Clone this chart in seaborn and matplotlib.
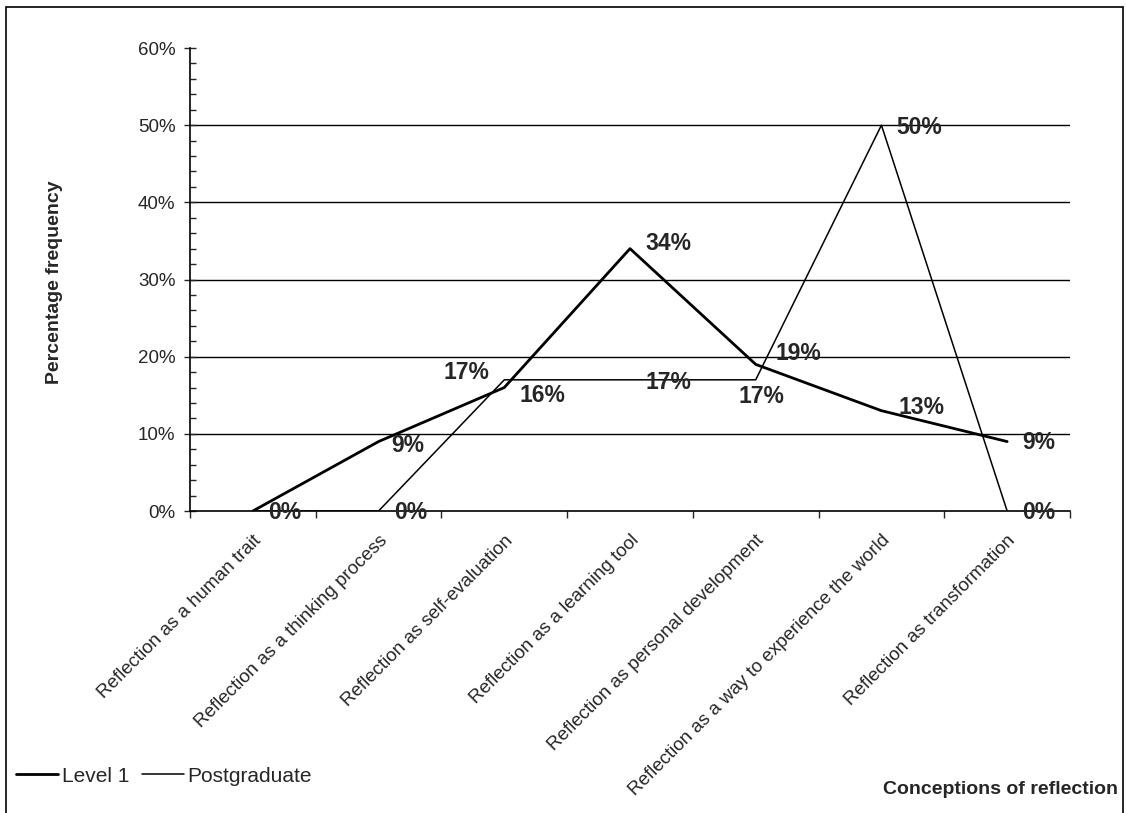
import numpy as np
import pandas as pd
import matplotlib
matplotlib.use("Agg")
import matplotlib.pyplot as plt
import matplotlib.transforms as mtrans
import seaborn as sns
from matplotlib.ticker import MultipleLocator, PercentFormatter

# data
categories = ["Reflection as a human trait",
              "Reflection as a thinking process",
              "Reflection as self-evaluation",
              "Reflection as a learning tool",
              "Reflection as personal development",
              "Reflection as a way to experience the world",
              "Reflection as transformation"]
level1 = [0, 9, 16, 34, 19, 13, 9]
postgrad = [0, 0, 17, 17, 17, 50, 0]

# label offsets in points (dx, dy, ha) - layout only
off_l1 = [(11, -1, "left"), (9, -3, "left"), (11, -6, "left"), (11, 4, "left"),
          (14, 8, "left"), (12, 2, "left"), (11, -1, "left")]
off_pg = [None, (11, -1, "left"), (-11, 5, "right"), (11, -2, "left"),
          (4, -12, "center"), (11, -2, "left"), (11, -1, "left")]

sns.set_style("white")
plt.rcParams["font.family"] = ["Liberation Sans", "DejaVu Sans"]

df = pd.DataFrame({"cat": list(range(len(categories))) * 2,
                   "val": level1 + postgrad,
                   "series": ["Level 1"] * 7 + ["Postgraduate"] * 7})

fig = plt.figure(figsize=(11.26, 8.13), dpi=100)
ax = fig.add_axes([190 / 1126, 1 - 511 / 813, 880 / 1126, 463 / 813])

sns.lineplot(data=df, x="cat", y="val", hue="series", size="series",
             sizes={"Level 1": 2.0, "Postgraduate": 1.1},
             palette={"Level 1": "black", "Postgraduate": "black"},
             ax=ax, legend=False)

for s, vals, offs in [("Level 1", level1, off_l1), ("Postgraduate", postgrad, off_pg)]:
    for i, v in enumerate(vals):
        if offs[i] is None:
            continue
        dx, dy, ha = offs[i]
        ax.annotate(f"{v}%", (i, v), xytext=(dx, dy), textcoords="offset points",
                    ha=ha, va="center", fontsize=16.5, fontweight="bold")

ax.set_xlim(-0.5, 6.5)
ax.set_ylim(0, 60)
ax.yaxis.set_major_locator(MultipleLocator(10))
ax.yaxis.set_minor_locator(MultipleLocator(2))
ax.yaxis.set_major_formatter(PercentFormatter(decimals=0))
for y in range(10, 60, 10):
    ax.axhline(y, color="black", lw=1.0, zorder=0)

ax.set_xticks(np.arange(-0.5, 7.0, 1.0))
ax.set_xticklabels([])
ax.set_xticks(range(7), minor=True)
ax.set_xticklabels(categories, minor=True, rotation=45, ha="right", va="top",
                   rotation_mode="anchor", fontsize=13.5)
shift = mtrans.ScaledTranslation(-4 / 72, 0, fig.dpi_scale_trans)
for lab in ax.get_xticklabels(minor=True):
    lab.set_transform(lab.get_transform() + shift)
ax.tick_params(axis="x", which="major", direction="out", length=5, width=1, bottom=True)
ax.tick_params(axis="x", which="minor", length=0, pad=15)
ax.tick_params(axis="y", which="major", direction="inout", length=9, width=1, left=True,
               pad=6, labelsize=13.5)
ax.tick_params(axis="y", which="minor", direction="in", length=4, width=1, left=True)

for side in ["top", "right"]:
    ax.spines[side].set_visible(False)
for side in ["left", "bottom"]:
    ax.spines[side].set_color("black")
    ax.spines[side].set_linewidth(1.2)

ax.set_xlabel("")
ax.set_ylabel("")
fig.text(55 / 1126, 1 - 282 / 813, "Percentage frequency", rotation=90,
         ha="center", va="center", fontsize=14, fontweight="bold")
fig.text(1118 / 1126, 1 - 789 / 813, "Conceptions of reflection",
         ha="right", va="center", fontsize=14, fontweight="bold")

h1 = plt.Line2D([], [], color="black", lw=2.0)
h2 = plt.Line2D([], [], color="black", lw=1.1)
fig.legend([h1, h2], ["Level 1", "Postgraduate"], loc="center left",
           bbox_to_anchor=(12 / 1126, 1 - 776 / 813), ncol=2, frameon=False,
           fontsize=15, handlelength=2.0, handletextpad=0.2, columnspacing=0.6,
           borderaxespad=0, borderpad=0.2)

fig.patches.append(plt.Rectangle((6 / 1126, -0.01), 1117 / 1126, 1 - 7 / 813 + 0.01,
                                 transform=fig.transFigure, fill=False,
                                 edgecolor="black", lw=1.2))

fig.savefig("out.png", dpi=100)
